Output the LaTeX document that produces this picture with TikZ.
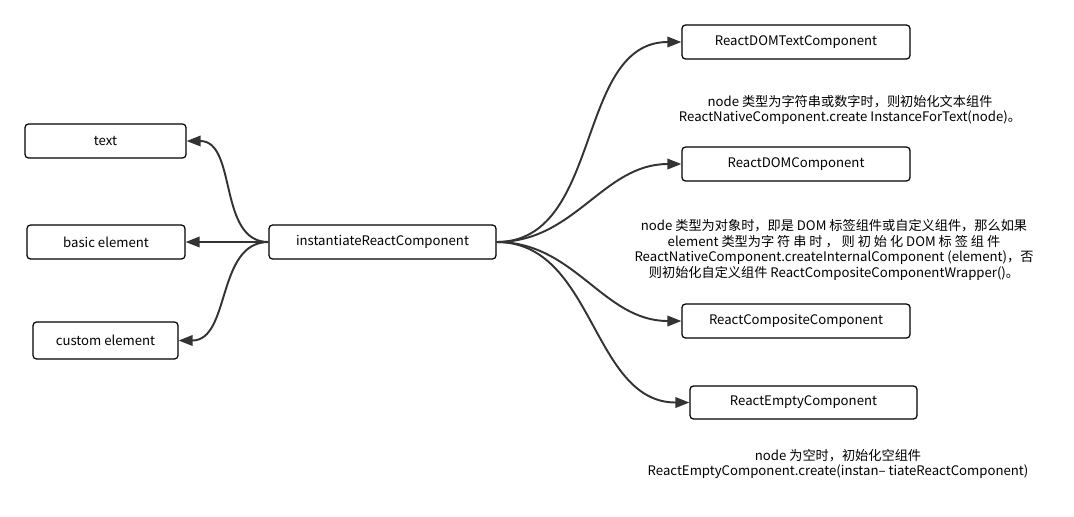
\documentclass[tikz,border=0pt]{standalone}
\usepackage{fontspec}
\setmainfont{Noto Sans CJK SC}
\usetikzlibrary{arrows.meta, positioning}
\definecolor{trait}{HTML}{333333}
\tikzstyle{boite} = [
    rectangle,
    rounded corners = 2pt,
    minimum height = 0.68cm,
    text centered,
    draw = black,
    line width = 0.7pt,
    font = \fontsize{7.5}{9}\selectfont,
]
\tikzstyle{fleche} = [
    -{Triangle[length = 8pt, width = 6pt]},
    line width = 1.1pt,
    draw = trait,
]
\tikzstyle{note} = [
    align = center,
    inner sep = 0pt,
    font = \fontsize{7.5}{9}\selectfont,
]
\begin{document}
\begin{tikzpicture}
    \useasboundingbox (0, 0) rectangle (21.48, -10.32);

    \node (Instantiate) [boite, minimum width = 4.54cm] at (7.65, -4.84) {instantiateReactComponent};

    \node (Text) [boite, minimum width = 3.22cm] at (2.11, -2.82) {text};
    \node (Basic) [boite, minimum width = 3.16cm] at (2.12, -4.84) {basic element};
    \node (Custom) [boite, minimum width = 2.90cm, minimum height = 0.74cm] at (2.11, -6.81) {custom element};

    \node (DOMText) [boite, minimum width = 4.56cm] at (15.92, -0.84) {ReactDOMTextComponent};
    \node (DOM) [boite, minimum width = 4.56cm] at (15.92, -3.28) {ReactDOMComponent};
    \node (Composite) [boite, minimum width = 4.56cm] at (15.92, -6.42) {ReactCompositeComponent};
    \node (Empty) [boite, minimum width = 4.54cm, minimum height = 0.66cm] at (16.07, -8.05) {ReactEmptyComponent};

    \node (NoteText) [note] at (17.0, -2.2) {node 类型为字符串或数字时，则初始化文本组件\\ReactNativeComponent.create InstanceForText(node)。};
    \node (NoteDOM) [note] at (16.68, -5.0) {node 类型为对象时，即是 DOM 标签组件或自定义组件，那么如果\\element 类型为字 符 串 时 ， 则 初 始 化 DOM 标 签 组 件\\ReactNativeComponent.createInternalComponent (element)，否\\则初始化自定义组件 ReactCompositeComponentWrapper()。};
    \node (NoteEmpty) [note] at (16.76, -9.28) {node 为空时，初始化空组件\\ReactEmptyComponent.create(instan– tiateReactComponent)};

    \draw[fleche] (Instantiate.west) to[out = 180, in = 0] (Text.east);
    \draw[fleche] (Instantiate.west) -- (Basic.east);
    \draw[fleche] (Instantiate.west) to[out = 180, in = 0] (Custom.east);

    \draw[fleche] (Instantiate.east) to[out = 0, in = 180] (DOMText.west);
    \draw[fleche] (Instantiate.east) to[out = 0, in = 180] (DOM.west);
    \draw[fleche] (Instantiate.east) to[out = 0, in = 180] (Composite.west);
    \draw[fleche] (Instantiate.east) to[out = 0, in = 180] (Empty.west);
\end{tikzpicture}
\end{document}
